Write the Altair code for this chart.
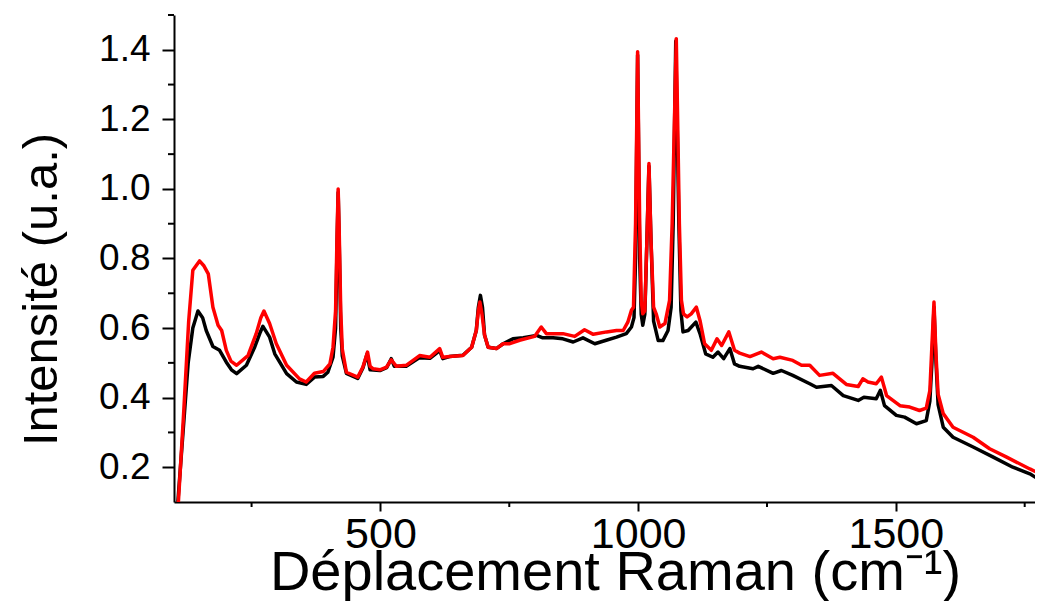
import altair as alt
import pandas as pd

# Raman shift (cm-1) and intensity (a.u.)
black_x = [100, 107, 117, 127, 136, 146, 155, 162, 175, 188, 201, 211, 221, 240, 256, 266, 272, 285, 295, 318,
           337, 356, 372, 389, 398, 408, 413, 416, 418, 420, 423, 426, 434, 456, 466, 474, 480, 499, 512, 521,
           527, 550, 576, 596, 615, 621, 634, 660, 677, 686, 690, 694, 698, 702, 709, 725, 738, 757, 777, 803,
           815, 835, 854, 874, 893, 916, 938, 958, 977, 987, 992, 995, 999, 1003, 1006, 1009, 1013, 1017, 1021, 1025,
           1030, 1039, 1048, 1058, 1064, 1068, 1073, 1079, 1083, 1087, 1097, 1112, 1120, 1131, 1145, 1155, 1166, 1178, 1187, 1197,
           1223, 1233, 1262, 1278, 1300, 1333, 1346, 1375, 1398, 1427, 1438, 1462, 1470, 1478, 1501, 1517, 1540, 1559, 1566, 1570,
           1574, 1578, 1582, 1592, 1611, 1650, 1689, 1727, 1760, 1779, 1790]
black_y = [0.00, 0.10, 0.30, 0.50, 0.60, 0.649, 0.63, 0.593, 0.547, 0.536, 0.502, 0.48, 0.469, 0.493, 0.545, 0.585, 0.605, 0.574, 0.526, 0.469,
           0.445, 0.438, 0.459, 0.461, 0.473, 0.516, 0.60, 0.85, 0.99, 0.85, 0.60, 0.52, 0.47, 0.455, 0.485, 0.525, 0.48, 0.478, 0.486, 0.512,
           0.49, 0.49, 0.515, 0.513, 0.535, 0.512, 0.518, 0.522, 0.545, 0.593, 0.66, 0.694, 0.66, 0.58, 0.545, 0.541, 0.555, 0.569, 0.572, 0.579,
           0.572, 0.572, 0.569, 0.560, 0.572, 0.555, 0.565, 0.574, 0.584, 0.603, 0.63, 0.80, 1.385, 0.80, 0.64, 0.608, 0.64, 0.85, 1.065, 0.85,
           0.62, 0.564, 0.564, 0.593, 0.66, 0.90, 1.425, 0.90, 0.65, 0.589, 0.593, 0.617, 0.584, 0.526, 0.516, 0.531, 0.512, 0.541, 0.497, 0.490,
           0.483, 0.49, 0.47, 0.478, 0.464, 0.44, 0.43, 0.435, 0.406, 0.392, 0.401, 0.397, 0.421, 0.377, 0.349, 0.344, 0.325, 0.334, 0.39, 0.50,
           0.66, 0.50, 0.38, 0.315, 0.286, 0.258, 0.229, 0.20, 0.181, 0.164, 0.155]

red_x = [100, 108, 118, 128, 136, 149, 157, 166, 175, 185, 192, 201, 210, 221, 243, 259, 268, 274, 285, 298,
         318, 343, 356, 372, 389, 402, 408, 413, 416, 418, 420, 423, 426, 434, 456, 466, 475, 480, 486, 499,
         512, 521, 531, 550, 576, 596, 615, 621, 634, 660, 677, 686, 690, 693, 697, 702, 709, 725, 738, 751,
         770, 799, 812, 822, 854, 877, 896, 913, 939, 958, 971, 980, 987, 991, 995, 999, 1003, 1006, 1009, 1013,
         1017, 1021, 1025, 1030, 1035, 1042, 1052, 1061, 1066, 1074, 1080, 1084, 1088, 1095, 1103, 1113, 1120, 1129, 1142, 1153,
         1162, 1176, 1187, 1197, 1217, 1239, 1262, 1275, 1300, 1317, 1333, 1352, 1378, 1391, 1404, 1427, 1436, 1446, 1462, 1472,
         1482, 1508, 1527, 1546, 1559, 1566, 1570, 1574, 1578, 1582, 1592, 1611, 1650, 1682, 1715, 1760, 1783, 1790]
red_y = [0.00, 0.10, 0.35, 0.62, 0.766, 0.793, 0.78, 0.756, 0.66, 0.608, 0.593, 0.536, 0.505, 0.493, 0.521, 0.584, 0.63, 0.649, 0.613, 0.555,
         0.493, 0.454, 0.445, 0.470, 0.475, 0.497, 0.545, 0.65, 0.88, 1.00, 0.88, 0.65, 0.54, 0.473, 0.459, 0.488, 0.531, 0.49, 0.483, 0.48,
         0.488, 0.509, 0.49, 0.493, 0.521, 0.516, 0.541, 0.516, 0.518, 0.521, 0.545, 0.593, 0.65, 0.675, 0.64, 0.58, 0.545, 0.541, 0.555, 0.555,
         0.565, 0.576, 0.603, 0.584, 0.584, 0.576, 0.595, 0.582, 0.589, 0.593, 0.593, 0.617, 0.651, 0.66, 0.90, 1.394, 0.90, 0.68, 0.641, 0.65,
         0.85, 1.073, 0.85, 0.66, 0.641, 0.603, 0.613, 0.68, 0.90, 1.432, 0.90, 0.68, 0.641, 0.632, 0.641, 0.66, 0.622, 0.555, 0.536, 0.569,
         0.55, 0.589, 0.536, 0.528, 0.518, 0.531, 0.512, 0.516, 0.507, 0.493, 0.493, 0.464, 0.470, 0.454, 0.438, 0.432, 0.454, 0.445, 0.44, 0.459,
         0.406, 0.377, 0.373, 0.363, 0.37, 0.42, 0.55, 0.675, 0.52, 0.41, 0.354, 0.315, 0.286, 0.253, 0.229, 0.195, 0.179, 0.172]

x_major = [500, 1000, 1500]
x_minor = [250, 750, 1250, 1750]
y_major = [0.2, 0.4, 0.6, 0.8, 1.0, 1.2, 1.4]
y_minor = [0.3, 0.5, 0.7, 0.9, 1.1, 1.3, 1.5]

df = pd.concat([
    pd.DataFrame({"shift": black_x, "intensity": black_y, "series": "noir"}),
    pd.DataFrame({"shift": red_x, "intensity": red_y, "series": "rouge"}),
])
df_ymin = pd.DataFrame({"intensity": y_minor})
df_xmin = pd.DataFrame({"shift": x_minor})

W, H = 861, 487
FONT = "Liberation Sans"
xscale = alt.Scale(domain=[99.5, 1770], nice=False, zero=False)
yscale = alt.Scale(domain=[0.1, 1.5], nice=False, zero=False)

xaxis = alt.Axis(values=x_major, format="d", title="Déplacement Raman (cm⁻¹)", grid=False,
                 tickSize=9, tickWidth=2, domainWidth=2, domainColor="black", tickColor="black",
                 labelFont=FONT, labelFontSize=43, labelColor="black", labelPadding=2,
                 titleFont=FONT, titleFontSize=56, titleFontWeight="normal", titleColor="black",
                 titleBaseline="alphabetic", titleX=441, titleY=87)
yaxis = alt.Axis(values=y_major, format=".1f", title="Intensité (u.a.)", grid=False,
                 tickSize=12, tickWidth=2, domainWidth=2, domainColor="black", tickColor="black",
                 labelFont=FONT, labelFontSize=37, labelColor="black", labelPadding=12,
                 titleFont=FONT, titleFontSize=49, titleFontWeight="normal", titleColor="black",
                 titleBaseline="alphabetic", titleX=-118, titleY=274)

X = alt.X("shift:Q", scale=xscale, axis=xaxis)
Y = alt.Y("intensity:Q", scale=yscale, axis=yaxis)

base = alt.Chart(df)
black = base.transform_filter(alt.datum.series == "noir").mark_line(
    color="black", strokeWidth=3.5, clip=True, strokeJoin="round").encode(x=X, y=Y, order="shift:Q")
red = base.transform_filter(alt.datum.series == "rouge").mark_line(
    color="#ff0000", strokeWidth=3.5, clip=True, strokeJoin="round").encode(x=X, y=Y, order="shift:Q")

ymin = alt.Chart(df_ymin).mark_rule(color="black", strokeWidth=2).encode(
    y=Y, x=alt.value(-6), x2=alt.value(0))
xmin = alt.Chart(df_xmin).mark_rule(color="black", strokeWidth=2).encode(
    x=X, y=alt.value(H), y2=alt.value(H + 5))

chart = alt.layer(black, red, ymin, xmin).properties(
    width=W, height=H, autosize="none",
    padding={"left": 166, "top": 7, "right": 0, "bottom": 100},
).configure_view(stroke=None)

chart.save("out.html", embed_options={"renderer": "svg", "actions": False})
